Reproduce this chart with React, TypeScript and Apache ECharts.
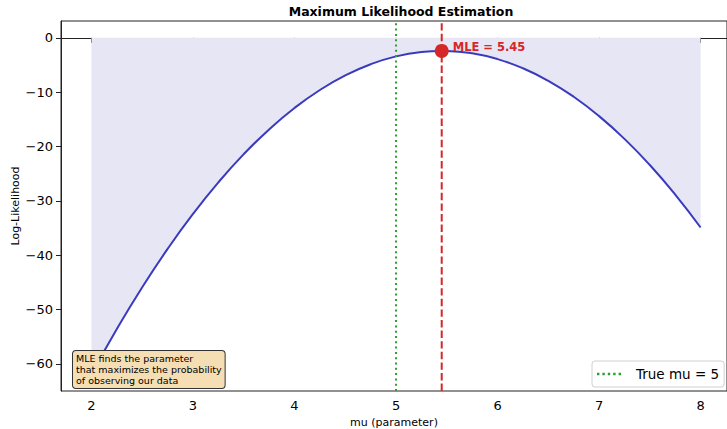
import React, { useEffect, useRef } from "react";
import * as echarts from "echarts";

const muValues = [2.0, 2.25, 2.5, 2.75, 3.0, 3.25, 3.5, 3.75, 4.0, 4.25, 4.5, 4.75, 5.0, 5.25, 5.45, 5.5, 5.75, 6.0, 6.25, 6.5, 6.75, 7.0, 7.25, 7.5, 7.75, 8.0];
const logLik = [-61.91, -53.6, -45.91, -38.85, -32.41, -26.6, -21.41, -16.85, -12.91, -9.6, -6.91, -4.85, -3.41, -2.6, -2.4, -2.41, -2.85, -3.91, -5.6, -7.91, -10.85, -14.41, -18.6, -23.41, -28.85, -34.91];
const xTicks = [2, 3, 4, 5, 6, 7, 8];
const yTicks = [0, -10, -20, -30, -40, -50, -60];
const trueMu = 5;
const mle = 5.45;
const mleLogLik = -2.4;
const yMin = -65;
const yMax = 3.1;
const xMin = 1.7;
const xMax = 8.26;

const FONT = "DejaVu Sans";
const DOTS = "path://M0,0h2.4v2.4h-2.4z M5.4,0h2.4v2.4h-2.4z M10.8,0h2.4v2.4h-2.4z M16.2,0h2.4v2.4h-2.4z M21.6,0h2.4v2.4h-2.4z";

export default function App() {
  const ref = useRef<HTMLDivElement>(null);
  useEffect(() => {
    if (!ref.current) return;
    const chart = echarts.init(ref.current, undefined, { renderer: "svg" });
    const fmt = (v: number) => (v < 0 ? "\u2212" + Math.abs(v) : String(v));
    chart.setOption({
      animation: false,
      title: {
        text: "Maximum Likelihood Estimation",
        left: 396,
        top: 0,
        textAlign: "center",
        textStyle: { fontFamily: FONT, fontSize: 12.5, fontWeight: "bold", color: "#000" },
      },
      grid: {
        left: 61,
        right: 0,
        top: 21,
        bottom: 38,
        show: true,
        borderColor: "#222",
        borderWidth: 1,
        containLabel: false,
        outerBoundsMode: "none",
      },
      legend: {
        data: [{ name: "True mu = 5", icon: DOTS }],
        left: 592,
        top: 361,
        padding: [5, 5, 5, 5],
        itemWidth: 24,
        itemHeight: 2.4,
        backgroundColor: "#fff",
        borderColor: "#d0d0d0",
        borderWidth: 1,
        borderRadius: 3,
        itemStyle: { color: "#2ca02c" },
        textStyle: { fontFamily: FONT, fontSize: 13.5, color: "#000", padding: [0, 0, 0, 10], lineHeight: 16 },
      },
      xAxis: {
        type: "value",
        min: xMin,
        max: xMax,
        name: "mu (parameter)",
        nameLocation: "middle",
        nameGap: 25,
        nameTextStyle: { fontFamily: FONT, fontSize: 11, color: "#000" },
        axisLine: { show: true, lineStyle: { color: "#222" } },
        axisTick: { show: true, length: 5, customValues: xTicks, lineStyle: { color: "#222" } },
        axisLabel: { customValues: xTicks, fontFamily: FONT, fontSize: 13, color: "#000", margin: 8 },
        splitLine: { show: false },
      },
      yAxis: {
        type: "value",
        min: yMin,
        max: yMax,
        name: "Log-Likelihood",
        nameLocation: "middle",
        nameGap: 40,
        nameMoveOverlap: false,
        nameTextStyle: { fontFamily: FONT, fontSize: 11, color: "#000" },
        axisLine: { show: true, lineStyle: { color: "#222" } },
        axisTick: { show: true, length: 5, customValues: yTicks, lineStyle: { color: "#222" } },
        axisLabel: { customValues: yTicks, formatter: fmt, fontFamily: FONT, fontSize: 13, color: "#000", margin: 8 },
        splitLine: { show: false },
      },
      series: [
        {
          name: "Log-Likelihood",
          type: "line",
          data: muValues.map((x, i) => [x, logLik[i]]),
          smooth: true,
          showSymbol: false,
          symbol: "none",
          lineStyle: { color: "#3a3abf", width: 2 },
          areaStyle: { color: "#e6e6f5", opacity: 1, origin: 0 },
          z: 2,
        },
        {
          name: "True mu = 5",
          type: "line",
          data: [[trueMu, yMin], [trueMu, yMax]],
          showSymbol: false,
          symbol: "none",
          color: "#2ca02c",
          lineStyle: { color: "#2ca02c", width: 2, type: [2, 3.3] },
          z: 3,
        },
        {
          name: "MLE line",
          type: "line",
          data: [[mle, yMin], [mle, yMax]],
          showSymbol: false,
          symbol: "none",
          lineStyle: { color: "#d62728", width: 2, type: [7.4, 3.2] },
          z: 3,
        },
        {
          name: "MLE",
          type: "scatter",
          data: [[mle, mleLogLik]],
          symbolSize: 14,
          itemStyle: { color: "#d62728", opacity: 1 },
          label: {
            show: true,
            position: "right",
            distance: 4,
            offset: [0, -4],
            formatter: "MLE = " + mle.toFixed(2),
            color: "#d62728",
            fontFamily: FONT,
            fontSize: 11.5,
            fontWeight: "bold",
          },
          z: 4,
        },
      ],
      graphic: [
        {
          type: "text",
          left: 72,
          top: 350,
          z: 100,
          style: {
            text: "MLE finds the parameter\nthat maximizes the probability\nof observing our data",
            fontFamily: FONT,
            fontSize: 9.5,
            lineHeight: 11,
            fill: "#000",
            backgroundColor: "#f5deb3",
            borderColor: "#333",
            borderWidth: 1,
            borderRadius: 3,
            padding: [2, 3, 2, 3],
          },
        },
      ],
    });
    return () => chart.dispose();
  }, []);
  return <div ref={ref} style={{ width: 727, height: 429, position: "absolute", left: 0, top: 0 }} />;
}
